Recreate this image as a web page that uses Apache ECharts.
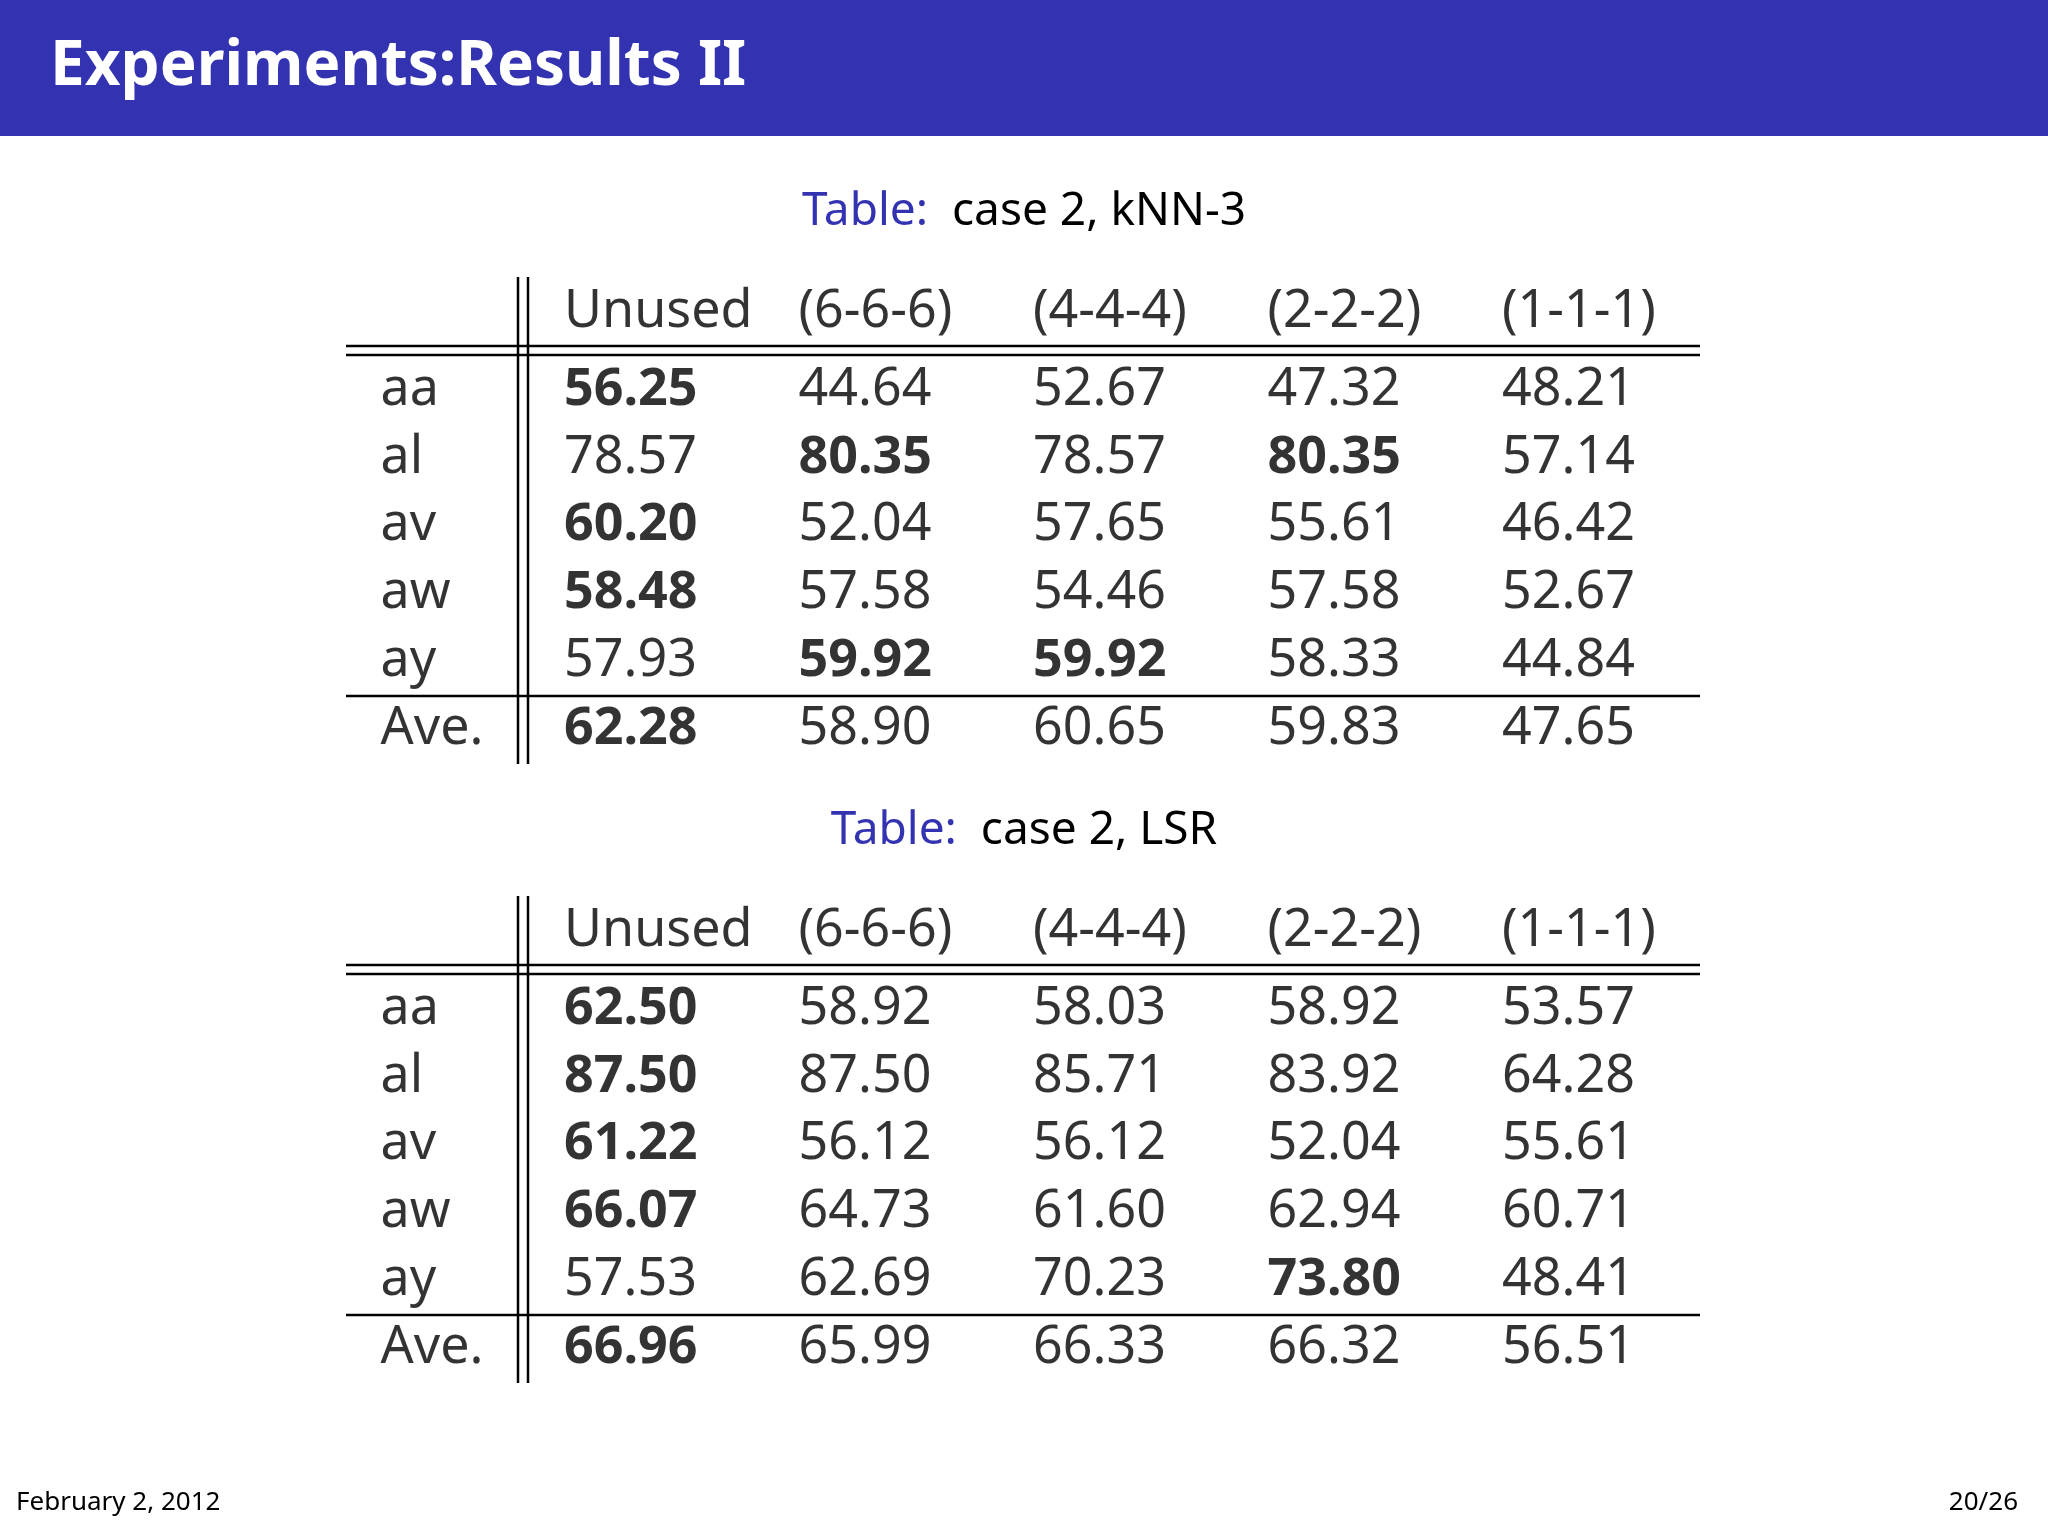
<!DOCTYPE html>
<html>
<head>
<meta charset="utf-8">
<script src="https://cdn.jsdelivr.net/npm/echarts@6/dist/echarts.min.js"></script>
<style>html,body{margin:0;padding:0;background:#fff}#main{width:2048px;height:1536px}</style>
</head>
<body>
<div id="main"></div>
<script>
// table data
var columns = ['Unused', '(6-6-6)', '(4-4-4)', '(2-2-2)', '(1-1-1)'];
var rows = ['aa', 'al', 'av', 'aw', 'ay', 'Ave.'];

var knnValues = [
  ['56.25', '44.64', '52.67', '47.32', '48.21'],
  ['78.57', '80.35', '78.57', '80.35', '57.14'],
  ['60.20', '52.04', '57.65', '55.61', '46.42'],
  ['58.48', '57.58', '54.46', '57.58', '52.67'],
  ['57.93', '59.92', '59.92', '58.33', '44.84'],
  ['62.28', '58.90', '60.65', '59.83', '47.65']
];
var knnBold = [
  [1, 0, 0, 0, 0],
  [0, 1, 0, 1, 0],
  [1, 0, 0, 0, 0],
  [1, 0, 0, 0, 0],
  [0, 1, 1, 0, 0],
  [1, 0, 0, 0, 0]
];

var lsrValues = [
  ['62.50', '58.92', '58.03', '58.92', '53.57'],
  ['87.50', '87.50', '85.71', '83.92', '64.28'],
  ['61.22', '56.12', '56.12', '52.04', '55.61'],
  ['66.07', '64.73', '61.60', '62.94', '60.71'],
  ['57.53', '62.69', '70.23', '73.80', '48.41'],
  ['66.96', '65.99', '66.33', '66.32', '56.51']
];
var lsrBold = [
  [1, 0, 0, 0, 0],
  [1, 0, 0, 0, 0],
  [1, 0, 0, 0, 0],
  [1, 0, 0, 0, 0],
  [0, 0, 0, 1, 0],
  [1, 0, 0, 0, 0]
];

var chart = echarts.init(document.getElementById('main'));
var FONT = 'Noto Sans';
var BLUE = '#3333B2';
var rowH = 67.8;
var colW = 234.5;

function cells(values, bold) {
  var out = [];
  columns.forEach(function (c, j) {
    out.push({ value: [j + 1, -0.15], name: c, bold: 0 });
  });
  rows.forEach(function (r, i) {
    out.push({ value: [0, i + 1], name: r, bold: 0, rowLabel: true });
    values[i].forEach(function (v, j) {
      out.push({ value: [j + 1, i + 1], name: v, bold: bold[i][j] });
    });
  });
  return out.map(function (d) {
    return {
      value: d.value,
      label: {
        formatter: d.name,
        fontWeight: d.bold ? 'bold' : 'normal',
        offset: d.rowLabel ? [51, 2] : [0, 2]
      }
    };
  });
}

function tableGraphics(dy) {
  var black = { stroke: '#000', lineWidth: 2.5 };
  return [
    { type: 'line', shape: { x1: 346, y1: 346 + dy, x2: 1700, y2: 346 + dy }, style: black },
    { type: 'line', shape: { x1: 346, y1: 355 + dy, x2: 1700, y2: 355 + dy }, style: black },
    { type: 'line', shape: { x1: 346, y1: 696 + dy, x2: 1700, y2: 696 + dy }, style: black },
    { type: 'line', shape: { x1: 518, y1: 277 + dy, x2: 518, y2: 764 + dy }, style: black },
    { type: 'line', shape: { x1: 528, y1: 277 + dy, x2: 528, y2: 764 + dy }, style: black }
  ];
}

var grids = [0, 619].map(function (dy) {
  return { left: 564 - colW, top: 388 - 2 * rowH + dy, width: 6 * colW, height: 7 * rowH };
});

var option = {
  backgroundColor: '#fff',
  animation: false,
  textStyle: { fontFamily: FONT },
  title: [
    { text: 'Table:  {b|case 2, kNN-3}', left: 'center', top: 184,
      textStyle: { color: BLUE, fontSize: 46, fontWeight: 'normal', fontFamily: FONT,
        rich: { b: { color: '#000', fontSize: 46, fontFamily: FONT } } } },
    { text: 'Table:  {b|case 2, LSR}', left: 'center', top: 803,
      textStyle: { color: BLUE, fontSize: 46, fontWeight: 'normal', fontFamily: FONT,
        rich: { b: { color: '#000', fontSize: 46, fontFamily: FONT } } } }
  ],
  grid: grids,
  xAxis: grids.map(function (g, k) {
    return { type: 'value', gridIndex: k, min: 0, max: 6, show: false };
  }),
  yAxis: grids.map(function (g, k) {
    return { type: 'value', gridIndex: k, min: -1, max: 6, inverse: true, show: false };
  }),
  series: [[knnValues, knnBold], [lsrValues, lsrBold]].map(function (t, k) {
    return {
      type: 'scatter',
      xAxisIndex: k,
      yAxisIndex: k,
      symbolSize: 0,
      clip: false,
      silent: true,
      data: cells(t[0], t[1]),
      label: {
        show: true,
        position: 'inside',
        align: 'left',
        verticalAlign: 'middle',
        color: '#000',
        textBorderWidth: 0,
        fontSize: 52,
        fontFamily: FONT
      }
    };
  }),
  graphic: [
    { type: 'rect', shape: { x: 0, y: 0, width: 2048, height: 136 }, style: { fill: BLUE } },
    { type: 'text', left: 50, top: 36,
      style: { text: 'Experiments:Results II', fill: '#fff', font: 'bold 62px "Noto Sans"' } },
    { type: 'text', left: 16, top: 1490,
      style: { text: 'February 2, 2012', fill: '#000', font: '26px "Noto Sans"' } },
    { type: 'text', right: 30, top: 1490,
      style: { text: '20/26', fill: '#000', font: '26px "Noto Sans"' } }
  ].concat(tableGraphics(0), tableGraphics(619))
};

chart.setOption(option);
</script>
</body>
</html>
